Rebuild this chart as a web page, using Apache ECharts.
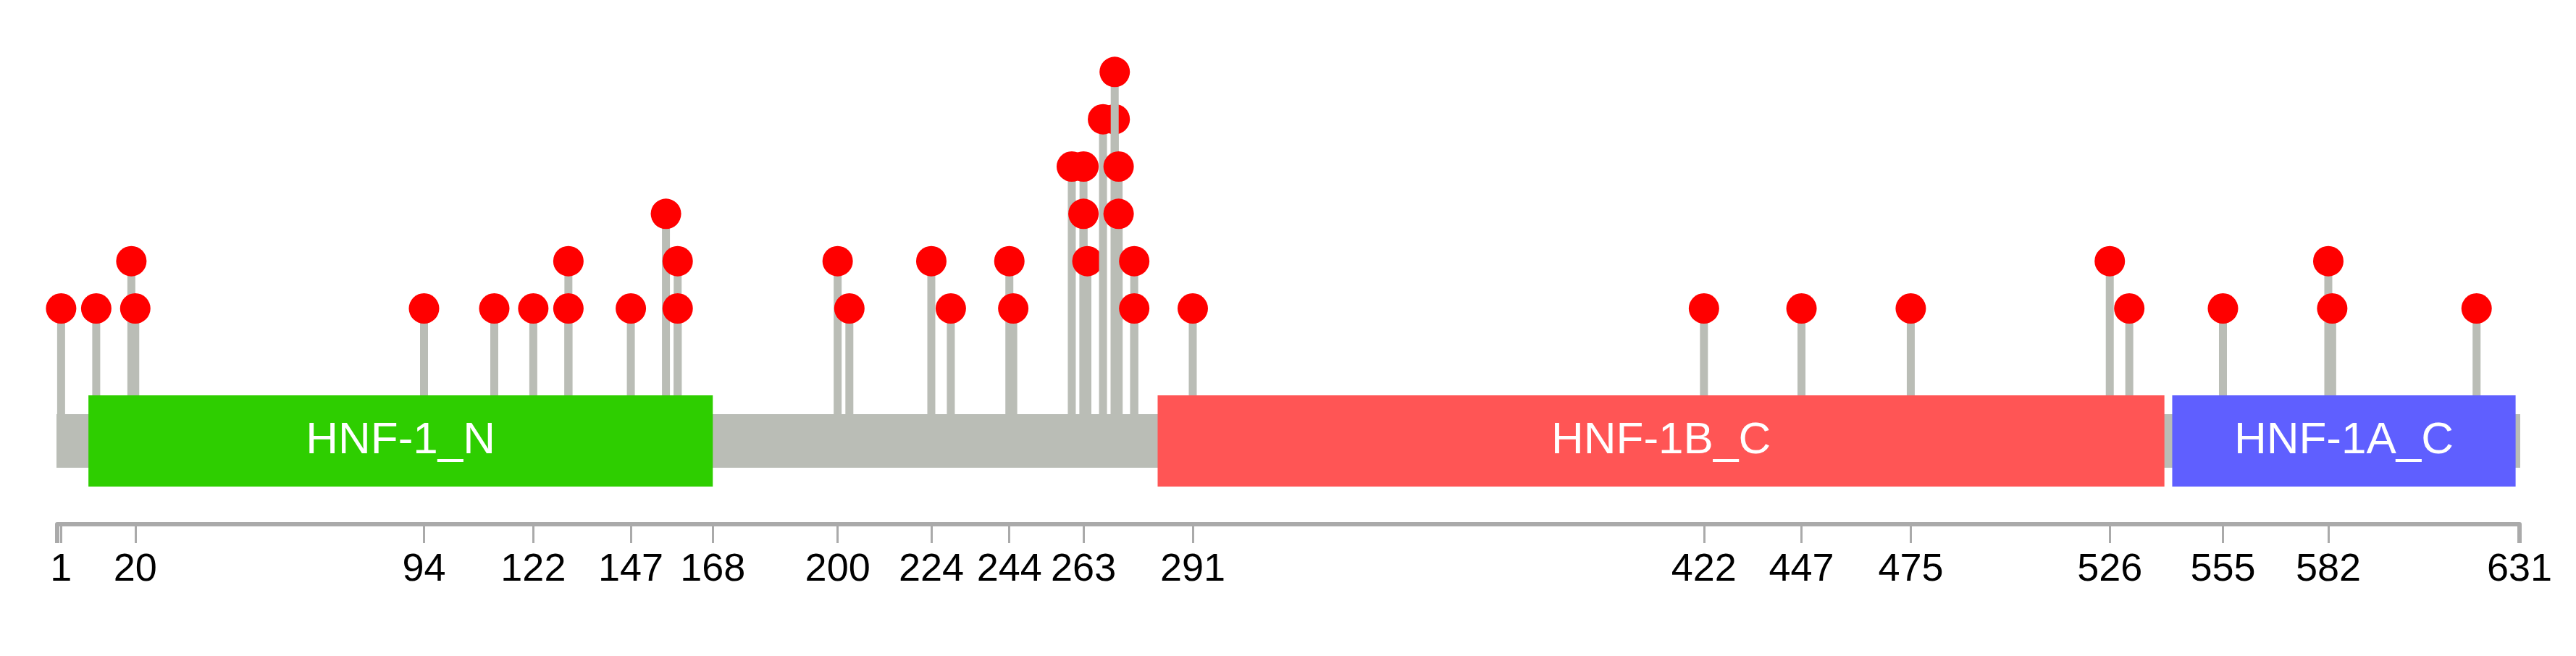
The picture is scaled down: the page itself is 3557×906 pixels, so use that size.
<!DOCTYPE html>
<html>
<head>
<meta charset="utf-8">
<script src="https://cdn.jsdelivr.net/npm/echarts@6/dist/echarts.min.js"></script>
<style>
html,body{margin:0;padding:0;background:#fff;}
#chart{width:3557px;height:906px;}
</style>
</head>
<body>
<div id="chart"></div>
<script>
// ---- data ----
var proteinLength = 631;
var tickValues = [1, 20, 94, 122, 147, 168, 200, 224, 244, 263, 291, 422, 447, 475, 526, 555, 582, 631];
var mutPositions = [1, 10, 19, 20, 94, 112, 122, 131, 131, 147, 156, 159, 159, 200, 203, 224, 229, 244, 245,
                    260, 263, 263, 264, 268, 271, 271, 272, 272, 276, 276, 291, 422, 447, 475, 526, 531, 555, 582, 583, 620];
var mutLevels    = [1, 1, 2, 1, 1, 1, 1, 2, 1, 1, 3, 2, 1, 2, 1, 2, 1, 2, 1,
                    4, 4, 3, 2, 5, 5, 6, 4, 3, 2, 1, 1, 1, 1, 1, 2, 1, 1, 2, 1, 1];
var domainNames  = ['HNF-1_N', 'HNF-1B_C', 'HNF-1A_C'];
var domainStarts = [8, 282, 542];
var domainEnds   = [168, 540, 630];

// ---- styles ----
var domainColors = ['#2ECE00', '#FF5555', '#5F5FFF'];
var greyColor = '#BABDB6';
var axisColor = '#AAAAAA';
var baseLevel = -1.8;      // vertical centre of the backbone (in level units)

var lollipopData = mutPositions.map(function (p, i) { return [p, mutLevels[i]]; });
var proteinData = [[0, proteinLength, -1, '']].concat(
  domainNames.map(function (n, i) { return [domainStarts[i], domainEnds[i], i, n]; })
);

var chart = echarts.init(document.getElementById('chart'), null, {renderer: 'canvas'});
chart.setOption({
  animation: false,
  backgroundColor: '#ffffff',
  grid: {left: 79, right: 78, top: 33.96, bottom: 182},
  xAxis: [{
    type: 'value', min: 0, max: proteinLength,
    splitLine: {show: false},
    axisLine: {show: true, onZero: false, lineStyle: {color: axisColor, width: 6}},
    axisTick: {show: true, customValues: tickValues, length: 26, lineStyle: {color: axisColor, width: 3}},
    axisLabel: {show: true, customValues: tickValues, margin: 36, fontSize: 54, lineHeight: 54,
                color: '#000', fontFamily: '"Liberation Sans", Arial, sans-serif'}
  }, {
    type: 'value', min: 0, max: proteinLength, position: 'bottom',
    splitLine: {show: false},
    axisLine: {show: false, onZero: false},
    axisTick: {show: true, customValues: [0, proteinLength], length: 26, lineStyle: {color: axisColor, width: 6}},
    axisLabel: {show: false}
  }],
  yAxis: {type: 'value', min: -3.5608, max: 7, show: false, splitLine: {show: false}},
  series: [{
    type: 'custom',
    xAxisIndex: 0,
    z: 2,
    data: lollipopData,
    renderItem: function (params, api) {
      var top = api.coord([api.value(0), api.value(1)]);
      var bot = api.coord([api.value(0), baseLevel]);
      return {
        type: 'group',
        children: [{
          type: 'rect',
          shape: {x: top[0] - 5.5, y: top[1], width: 11, height: bot[1] - top[1]},
          style: {fill: greyColor}
        }, {
          type: 'circle',
          shape: {cx: top[0], cy: top[1], r: 21},
          style: {fill: '#FF0000'}
        }]
      };
    }
  }, {
    type: 'custom',
    xAxisIndex: 0,
    z: 3,
    data: proteinData,
    renderItem: function (params, api) {
      var s = api.coord([api.value(0), baseLevel]);
      var e = api.coord([api.value(1), baseLevel]);
      var idx = api.value(2);
      if (idx < 0) {
        return {type: 'rect', shape: {x: s[0] - 1, y: s[1] - 37, width: e[0] - s[0] + 2, height: 74},
                style: {fill: greyColor}};
      }
      var name = domainNames[idx];
      return {
        type: 'group',
        children: [{
          type: 'rect',
          shape: {x: s[0], y: s[1] - 63, width: e[0] - s[0], height: 126},
          style: {fill: domainColors[idx]}
        }, {
          type: 'text',
          style: {text: name, x: (s[0] + e[0]) / 2, y: s[1], fill: '#ffffff',
                  fontSize: 62, fontFamily: '"Liberation Sans", Arial, sans-serif',
                  align: 'center', verticalAlign: 'middle'}
        }]
      };
    }
  }]
});
</script>
</body>
</html>
